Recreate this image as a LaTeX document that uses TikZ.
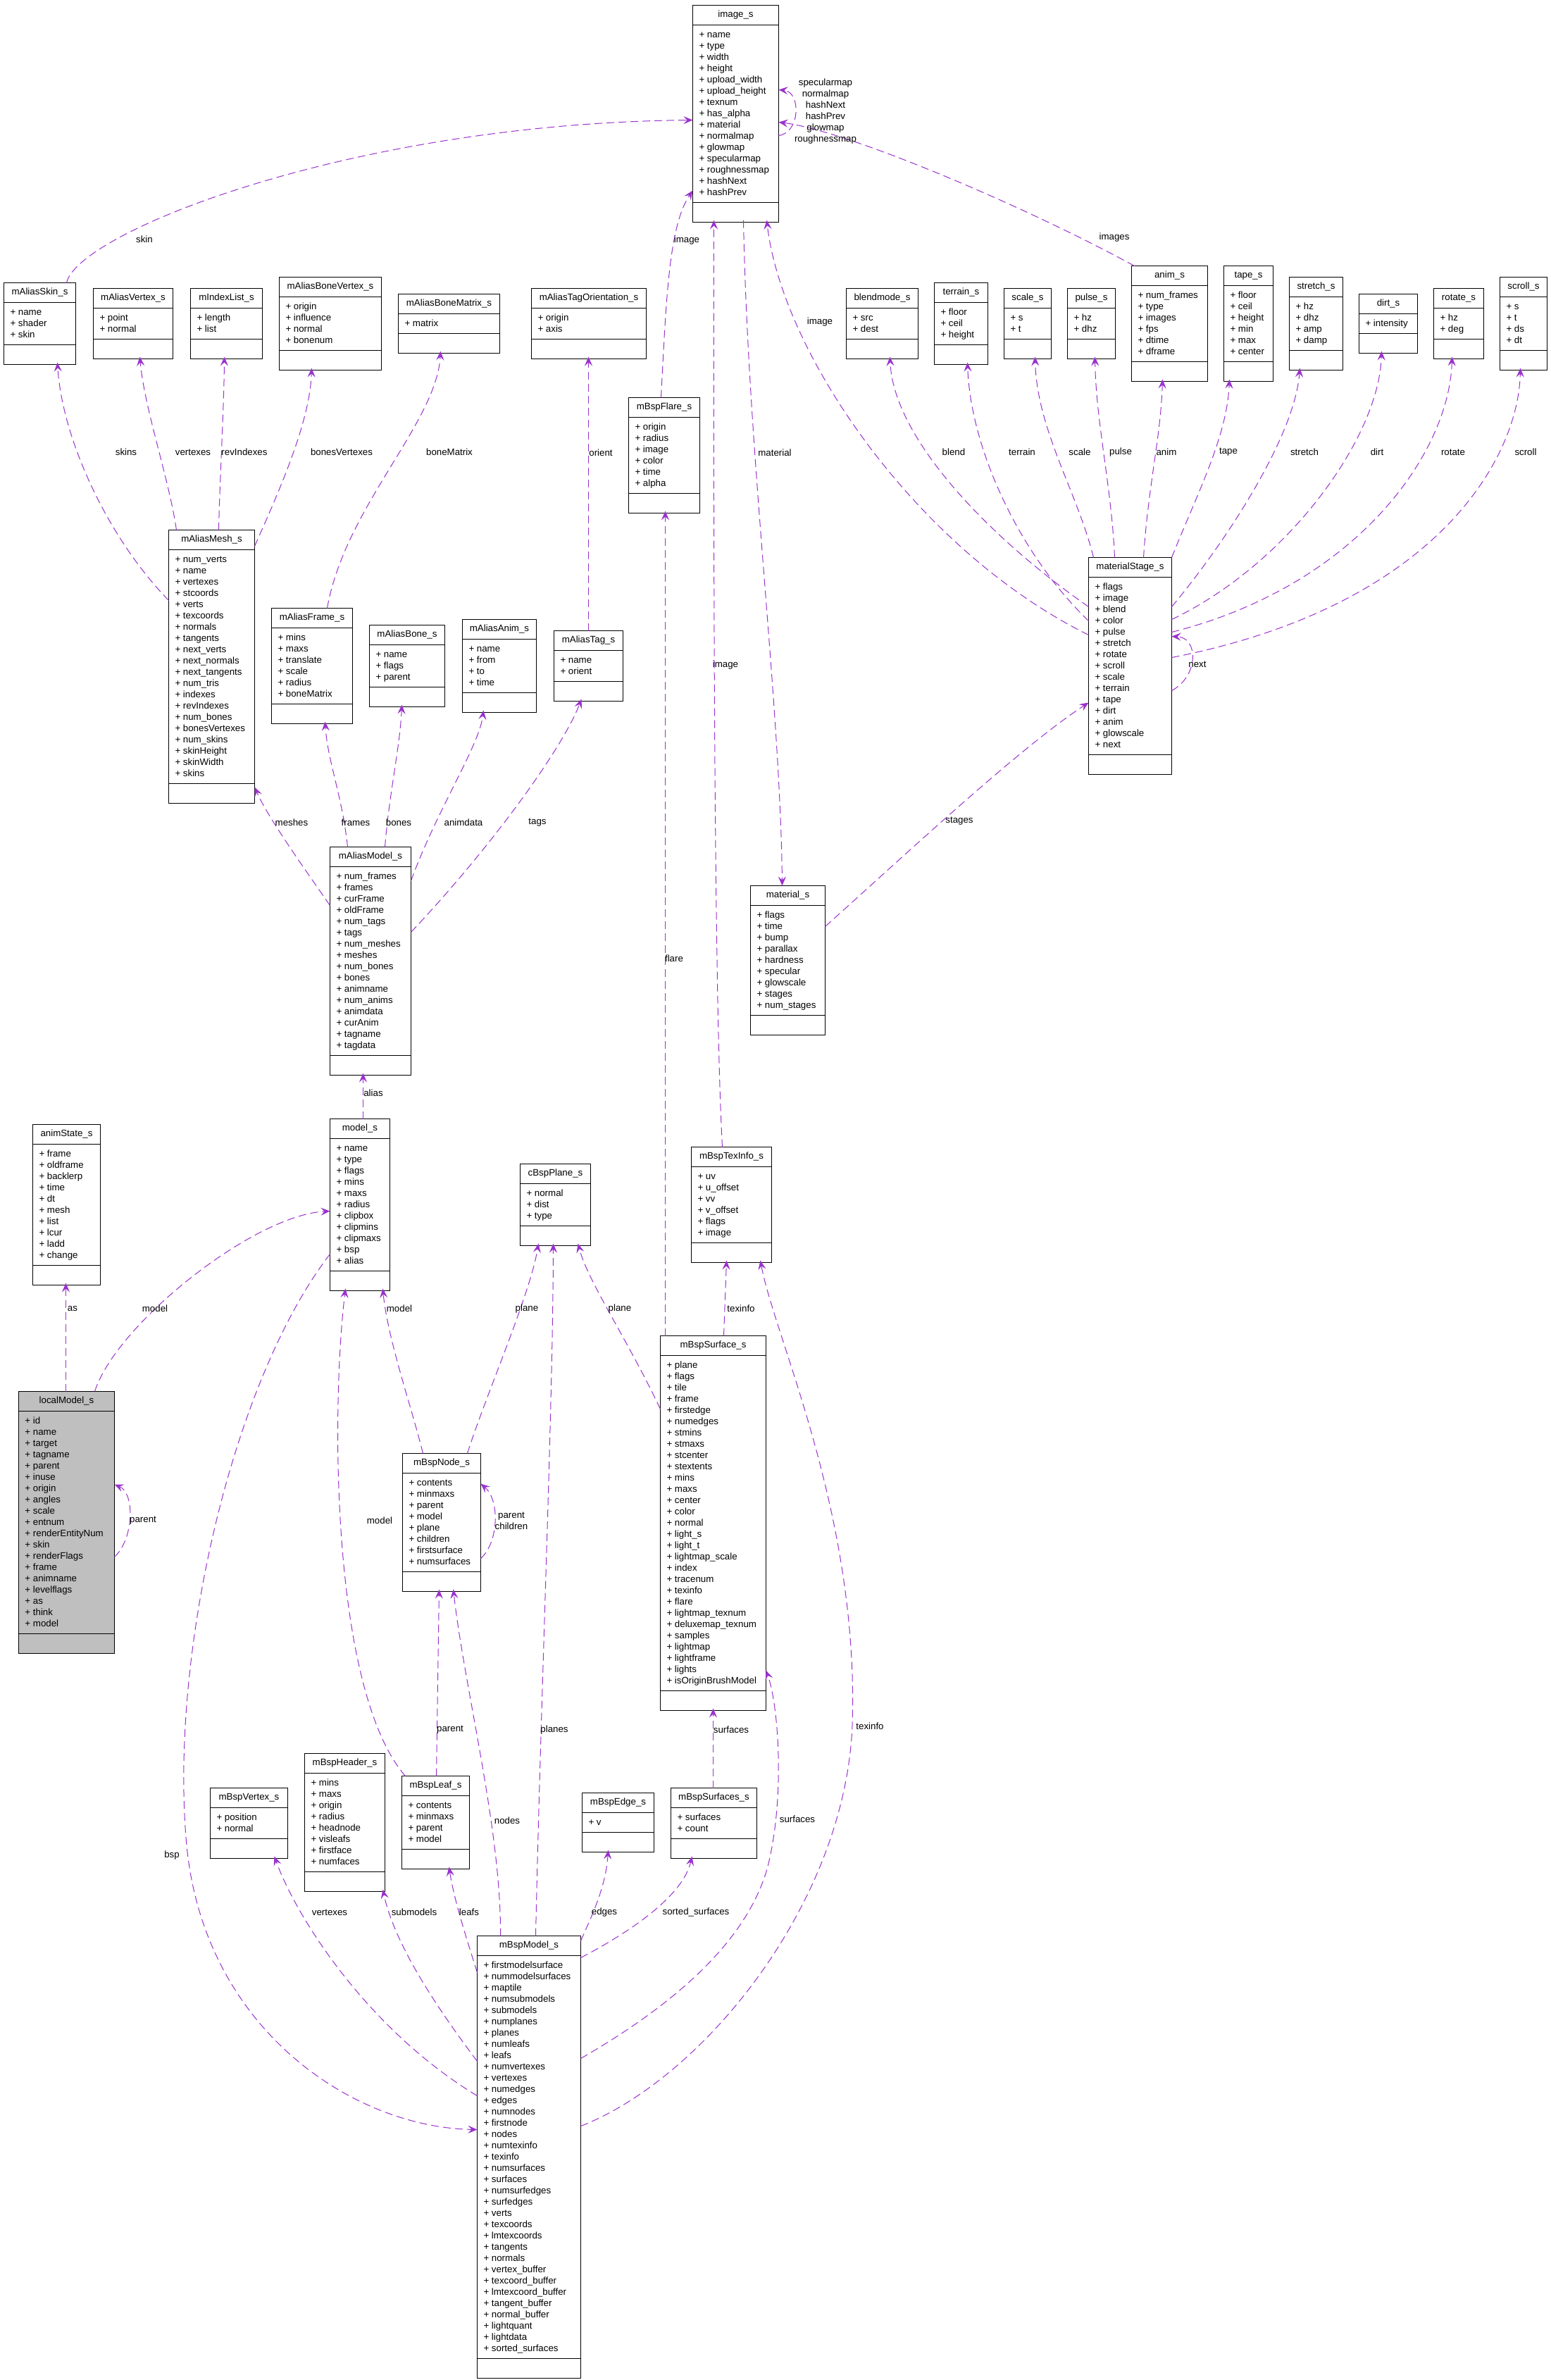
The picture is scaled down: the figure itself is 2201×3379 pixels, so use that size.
\documentclass[tikz,border=0pt]{standalone}
\usepackage{fontspec}
\setmainfont{Liberation Sans}
\usetikzlibrary{shapes.multipart,arrows.meta,calc}
\definecolor{edgecol}{HTML}{9A32CD}
\newdimen\cw
\newcommand\fs{\fontsize{13.3pt}{16pt}\selectfont}
\newcommand\clstitle[1]{\vbox to 27pt{\vfil\hbox to\cw{\hfil\vrule height 9.5pt depth 3.5pt width 0pt\relax #1\hfil}\vfil}}
\newcommand\clsrow[1]{\hbox to\cw{\hspace{9pt}\vrule height 11.5pt depth 4.5pt width 0pt\relax + #1\hfil}}
\newcommand\clsrows[1]{\vbox{\offinterlineskip\kern5.5pt\foreach \rowitem in {#1}{\clsrow{\rowitem}}\kern5.5pt}}
\newcommand\clsempty{\vbox to 27pt{\hbox to\cw{}\vfil}}
\newcommand\umlclass[7][]{%
  \global\cw=#5pt\relax
  \node[cls,#1] (#2) at (#3+0.5,#4+0.5) {\clstitle{#6}\nodepart{two}\clsrows{#7}\nodepart{three}\clsempty};}
\tikzset{
  cls/.style={draw=black, line width=1pt, fill=white, rectangle split, rectangle split parts=3,
    inner sep=0pt, outer sep=0pt, anchor=north west},
  rel/.style={edgecol, line width=1pt, dash pattern=on 11pt off 6pt,
    -{Stealth[length=13pt,width=11pt,inset=5pt]}},
  lbl/.style={inner sep=0pt, text=black}
}
\begin{document}
\begin{tikzpicture}[x=1pt,y=-1pt, every node/.style={font=\fs}]
\fill[white] (0,0) rectangle (2201,3379);
\useasboundingbox (0,0) rectangle (2201,3379);

% ---------- classes ----------
\umlclass{image}{983}{7}{122}{image\_s}{name,type,width,height,upload\_width,upload\_height,texnum,has\_alpha,material,normalmap,glowmap,specularmap,roughnessmap,hashNext,hashPrev}
\umlclass{askin}{5}{401}{102}{mAliasSkin\_s}{name,shader,skin}
\umlclass{avert}{132}{409}{113}{mAliasVertex\_s}{point,normal}
\umlclass{ilist}{270}{409}{102}{mIndexList\_s}{length,list}
\umlclass{bvert}{396}{393}{145}{mAliasBoneVertex\_s}{origin,influence,normal,bonenum}
\umlclass{bmat}{565}{417}{144}{mAliasBoneMatrix\_s}{matrix}
\umlclass{tagor}{754}{409}{163}{mAliasTagOrientation\_s}{origin,axis}
\umlclass{flare}{892}{564}{101}{mBspFlare\_s}{origin,radius,image,color,time,alpha}
\umlclass{blendm}{1201}{409}{102}{blendmode\_s}{src,dest}
\umlclass{terrain}{1326}{401}{76}{terrain\_s}{floor,ceil,height}
\umlclass{scalem}{1425}{409}{67}{scale\_s}{s,t}
\umlclass{pulsem}{1515}{409}{68}{pulse\_s}{hz,dhz}
\umlclass{animm}{1606}{377}{108}{anim\_s}{num\_frames,type,images,fps,dtime,dframe}
\umlclass{tapem}{1737}{377}{70}{tape\_s}{floor,ceil,height,min,max,center}
\umlclass{stretchm}{1830}{393}{76}{stretch\_s}{hz,dhz,amp,damp}
\umlclass{dirtm}{1929}{417}{83}{dirt\_s}{intensity}
\umlclass{rotatem}{2035}{409}{71}{rotate\_s}{hz,deg}
\umlclass{scrollm}{2129}{393}{67}{scroll\_s}{s,t,ds,dt}
\umlclass{mstage}{1545}{791}{118}{materialStage\_s}{flags,image,blend,color,pulse,stretch,rotate,scroll,scale,terrain,tape,dirt,anim,glowscale,next}
\umlclass{mesh}{239}{752}{122}{mAliasMesh\_s}{num\_verts,name,vertexes,stcoords,verts,texcoords,normals,tangents,next\_verts,next\_normals,next\_tangents,num\_tris,indexes,revIndexes,num\_bones,bonesVertexes,num\_skins,skinHeight,skinWidth,skins}
\umlclass{aframe}{385}{863}{115}{mAliasFrame\_s}{mins,maxs,translate,scale,radius,boneMatrix}
\umlclass{abone}{524}{887}{107}{mAliasBone\_s}{name,flags,parent}
\umlclass{aanim}{656}{879}{105}{mAliasAnim\_s}{name,from,to,time}
\umlclass{atag}{786}{895}{98}{mAliasTag\_s}{name,orient}
\umlclass{amodel}{468}{1202}{115}{mAliasModel\_s}{num\_frames,frames,curFrame,oldFrame,num\_tags,tags,num\_meshes,meshes,num\_bones,bones,animname,num\_anims,animdata,curAnim,tagname,tagdata}
\umlclass{material}{1065}{1257}{106}{material\_s}{flags,time,bump,parallax,hardness,specular,glowscale,stages,num\_stages}
\umlclass{astate}{46}{1596}{96}{animState\_s}{frame,oldframe,backlerp,time,dt,mesh,list,lcur,ladd,change}
\umlclass{model}{468}{1588}{85}{model\_s}{name,type,flags,mins,maxs,radius,clipbox,clipmins,clipmaxs,bsp,alias}
\umlclass{plane}{738}{1652}{100}{cBspPlane\_s}{normal,dist,type}
\umlclass{texinfo}{981}{1628}{114}{mBspTexInfo\_s}{uv,u\_offset,vv,v\_offset,flags,image}
\umlclass[fill=black!25]{localm}{26}{1975}{136}{localModel\_s}{id,name,target,tagname,parent,inuse,origin,angles,scale,entnum,renderEntityNum,skin,renderFlags,frame,animname,levelflags,as,think,model}
\umlclass{bnode}{571}{2063}{111}{mBspNode\_s}{contents,minmaxs,parent,model,plane,children,firstsurface,numsurfaces}
\umlclass{surf}{937}{1896}{150}{mBspSurface\_s}{plane,flags,tile,frame,firstedge,numedges,stmins,stmaxs,stcenter,stextents,mins,maxs,center,color,normal,light\_s,light\_t,lightmap\_scale,index,tracenum,texinfo,flare,lightmap\_texnum,deluxemap\_texnum,samples,lightmap,lightframe,lights,isOriginBrushModel}
\umlclass{vertex}{298}{2538}{110}{mBspVertex\_s}{position,normal}
\umlclass{header}{432}{2489}{114}{mBspHeader\_s}{mins,maxs,origin,radius,headnode,visleafs,firstface,numfaces}
\umlclass{leaf}{570}{2521}{96}{mBspLeaf\_s}{contents,minmaxs,parent,model}
\umlclass{bedge}{826}{2545}{102}{mBspEdge\_s}{v}
\umlclass{surfs}{952}{2538}{122}{mBspSurfaces\_s}{surfaces,count}
\umlclass{bmodel}{677}{2748}{147}{mBspModel\_s}{firstmodelsurface,nummodelsurfaces,maptile,numsubmodels,submodels,numplanes,planes,numleafs,leafs,numvertexes,vertexes,numedges,edges,numnodes,firstnode,nodes,numtexinfo,texinfo,numsurfaces,surfaces,numsurfedges,surfedges,verts,texcoords,lmtexcoords,tangents,normals,vertex\_buffer,texcoord\_buffer,lmtexcoord\_buffer,tangent\_buffer,normal\_buffer,lightquant,lightdata,sorted\_surfaces}

% ---------- connectors ----------
\draw[rel] ($(askin.north west)+(89,0)$) .. controls (110,330) and (500,175) .. ($(image.north west)+(0,163)$);
\draw[rel] ($(image.north west)+(122,185)$) .. controls (1137,188) and (1137,130) .. ($(image.north west)+(122,120)$);
\draw[rel] ($(animm.north west)+(4,0)$) .. controls (1450,290) and (1200,185) .. ($(image.north west)+(122,166)$);
\draw[rel] ($(flare.north west)+(46,0)$) .. controls (946,420) and (950,320) .. ($(image.north west)+(0,263)$);
\draw[rel] ($(texinfo.north west)+(44,0)$) .. controls (1013,1400) and (1013,700) .. ($(image.north west)+(30,305)$);
\draw[rel] ($(image.north west)+(72,305)$) .. controls (1062,650) and (1108,1000) .. ($(material.north west)+(45,0)$);
\draw[rel] ($(mstage.north west)+(0,110)$) .. controls (1300,780) and (1110,500) .. ($(image.north west)+(105,305)$);
\draw[rel] ($(mstage.north west)+(0,70)$) .. controls (1400,760) and (1268,620) .. ($(blendm.north west)+(62,97)$);
\draw[rel] ($(mstage.north west)+(0,90)$) .. controls (1450,790) and (1378,640) .. ($(terrain.north west)+(47,113)$);
\draw[rel] ($(mstage.north west)+(7,0)$) .. controls (1530,700) and (1472,610) .. ($(scalem.north west)+(44,97)$);
\draw[rel] ($(mstage.north west)+(37,0)$) .. controls (1578,690) and (1556,600) .. ($(pulsem.north west)+(39,97)$);
\draw[rel] ($(mstage.north west)+(78,0)$) .. controls (1630,690) and (1648,620) .. ($(animm.north west)+(44,161)$);
\draw[rel] ($(mstage.north west)+(118,0)$) .. controls (1700,700) and (1742,620) .. ($(tapem.north west)+(8,161)$);
\draw[rel] ($(mstage.north west)+(118,70)$) .. controls (1740,770) and (1838,620) .. ($(stretchm.north west)+(15,129)$);
\draw[rel] ($(mstage.north west)+(118,88)$) .. controls (1830,800) and (1958,620) .. ($(dirtm.north west)+(32,81)$);
\draw[rel] ($(mstage.north west)+(118,106)$) .. controls (1930,830) and (2058,640) .. ($(rotatem.north west)+(26,97)$);
\draw[rel] ($(mstage.north west)+(118,142)$) .. controls (2040,860) and (2156,650) .. ($(scrollm.north west)+(29,129)$);
\draw[rel] ($(mstage.north west)+(118,189)$) .. controls (1702,960) and (1702,905) .. ($(mstage.north west)+(118,112)$);
\draw[rel] ($(material.north west)+(106,58)$) .. controls (1300,1200) and (1450,1060) .. ($(mstage.north west)+(0,206)$);
\draw[rel] ($(mesh.north west)+(0,100)$) .. controls (150,760) and (88,620) .. ($(askin.north west)+(76,113)$);
\draw[rel] ($(mesh.north west)+(11,0)$) .. controls (240,680) and (205,580) .. ($(avert.north west)+(66,97)$);
\draw[rel] ($(mesh.north west)+(71,0)$) .. controls (312,680) and (318,580) .. ($(ilist.north west)+(48,97)$);
\draw[rel] ($(mesh.north west)+(122,23)$) .. controls (395,700) and (440,600) .. ($(bvert.north west)+(46,129)$);
\draw[rel] ($(aframe.north west)+(79,0)$) .. controls (490,720) and (620,600) .. ($(bmat.north west)+(60,81)$);
\draw[rel] ($(atag.north west)+(49,0)$) -- ($(tagor.north west)+(81,97)$);
\draw[rel] ($(amodel.north west)+(0,83)$) .. controls (430,1230) and (380,1160) .. ($(mesh.north west)+(122,365)$);
\draw[rel] ($(amodel.north west)+(25,0)$) .. controls (486,1130) and (465,1080) .. ($(aframe.north west)+(76,161)$);
\draw[rel] ($(amodel.north west)+(78,0)$) .. controls (552,1130) and (568,1060) .. ($(abone.north west)+(46,113)$);
\draw[rel] ($(amodel.north west)+(115,48)$) .. controls (620,1150) and (680,1060) .. ($(aanim.north west)+(30,129)$);
\draw[rel] ($(amodel.north west)+(115,121)$) .. controls (700,1200) and (800,1060) .. ($(atag.north west)+(39,97)$);
\draw[rel] ($(model.north west)+(47,0)$) -- ($(amodel.north west)+(47,321)$);
\draw[rel] ($(localm.north west)+(108,0)$) .. controls (165,1880) and (360,1725) .. ($(model.north west)+(0,131)$);
\draw[rel] ($(localm.north west)+(67,0)$) -- ($(astate.north west)+(47,225)$);
\draw[rel] ($(localm.north west)+(136,235)$) .. controls (190,2185) and (192,2120) .. ($(localm.north west)+(136,132)$);
\draw[rel] ($(model.north west)+(0,192)$) .. controls (330,1960) and (240,2350) .. (265,2620) .. controls (290,2880) and (500,3020) .. ($(bmodel.north west)+(0,275)$);
\draw[rel] ($(bnode.north west)+(29,0)$) .. controls (585,2000) and (550,1900) .. ($(model.north west)+(75,241)$);
\draw[rel] ($(leaf.north west)+(5,0)$) .. controls (470,2400) and (470,2000) .. ($(model.north west)+(22,241)$);
\draw[rel] ($(leaf.north west)+(49,0)$) -- ($(bnode.north west)+(52,193)$);
\draw[rel] ($(bmodel.north west)+(33,0)$) .. controls (712,2600) and (660,2400) .. ($(bnode.north west)+(72,193)$);
\draw[rel] ($(bmodel.north west)+(83,0)$) .. controls (768,2400) and (785,2000) .. ($(plane.north west)+(47,113)$);
\draw[rel] ($(bnode.north west)+(92,0)$) .. controls (690,1980) and (752,1840) .. ($(plane.north west)+(26,113)$);
\draw[rel] ($(surf.north west)+(0,104)$) .. controls (890,1900) and (835,1820) .. ($(plane.north west)+(82,113)$);
\draw[rel] ($(surf.north west)+(90,0)$) -- ($(texinfo.north west)+(50,161)$);
\draw[rel] ($(bmodel.north west)+(147,270)$) .. controls (1000,2950) and (1200,2700) .. (1210,2450) .. controls (1220,2150) and (1100,1900) .. ($(texinfo.north west)+(98,161)$);
\draw[rel] ($(bmodel.north west)+(147,174)$) .. controls (950,2850) and (1060,2760) .. (1090,2650) .. controls (1115,2550) and (1105,2420) .. ($(surf.north west)+(150,475)$);
\draw[rel] ($(surfs.north west)+(60,0)$) -- ($(surf.north west)+(75,529)$);
\draw[rel] ($(surf.north west)+(7,0)$) -- ($(flare.north west)+(52,161)$);
\draw[rel] ($(bmodel.north west)+(147,31)$) .. controls (900,2740) and (970,2690) .. ($(surfs.north west)+(30,97)$);
\draw[rel] ($(bmodel.north west)+(147,7)$) .. controls (840,2720) and (860,2680) .. ($(bedge.north west)+(37,81)$);
\draw[rel] ($(bmodel.north west)+(0,52)$) .. controls (665,2760) and (645,2700) .. ($(leaf.north west)+(67,129)$);
\draw[rel] ($(bmodel.north west)+(0,178)$) .. controls (620,2850) and (560,2760) .. ($(header.north west)+(111,193)$);
\draw[rel] ($(bmodel.north west)+(0,227)$) .. controls (520,2880) and (420,2720) .. ($(vertex.north west)+(91,97)$);
\draw[rel] ($(bnode.north west)+(111,149)$) .. controls (708,2190) and (710,2130) .. ($(bnode.north west)+(111,43)$);

% ---------- labels ----------
\node[lbl] (L1) at (205,340) {skin};
\node[lbl] (L2) at (975,341) {image};
\node[lbl,align=center] (L3) at (1172,158) {specularmap\\normalmap\\hashNext\\hashPrev\\glowmap\\roughnessmap};
\node[lbl] (L4) at (1582,337) {images};
\node[lbl] (L5) at (1164,457) {image};
\node[lbl] (L6) at (179,642) {skins};
\node[lbl] (L7) at (274,642) {vertexes};
\node[lbl] (L8) at (347,642) {revIndexes};
\node[lbl] (L9) at (485,642) {bonesVertexes};
\node[lbl] (L10) at (638,642) {boneMatrix};
\node[lbl] (L11) at (853,643) {orient};
\node[lbl] (L12) at (1100,643) {material};
\node[lbl] (L13) at (1354,642) {blend};
\node[lbl] (L14) at (1451,642) {terrain};
\node[lbl] (L15) at (1533,642) {scale};
\node[lbl] (L16) at (1591,642) {pulse};
\node[lbl] (L17) at (1656,642) {anim};
\node[lbl] (L18) at (1744,642) {tape};
\node[lbl] (L19) at (1852,642) {stretch};
\node[lbl] (L20) at (1955,642) {dirt};
\node[lbl] (L21) at (2063,642) {rotate};
\node[lbl] (L22) at (2166,642) {scroll};
\node[lbl] (L23) at (1030,944) {image};
\node[lbl] (L24) at (1700,943) {next};
\node[lbl] (L25) at (414,1168) {meshes};
\node[lbl] (L26) at (505,1168) {frames};
\node[lbl] (L27) at (566,1168) {bones};
\node[lbl] (L28) at (658,1168) {animdata};
\node[lbl] (L29) at (763,1168) {tags};
\node[lbl] (L30) at (1362,1166) {stages};
\node[lbl] (L31) at (957,1361) {flare};
\node[lbl] (L32) at (530,1552) {alias};
\node[lbl] (L33) at (103,1858) {as};
\node[lbl] (L34) at (220,1858) {model};
\node[lbl] (L35) at (567,1858) {model};
\node[lbl] (L36) at (748,1858) {plane};
\node[lbl] (L37) at (880,1858) {plane};
\node[lbl] (L38) at (1052,1858) {texinfo};
\node[lbl] (L39) at (203,2159) {parent};
\node[lbl] (L40) at (539,2159) {model};
\node[lbl,align=center] (L41) at (726,2159) {parent\\children};
\node[lbl] (L42) at (244,2634) {bsp};
\node[lbl] (L43) at (639,2456) {parent};
\node[lbl] (L44) at (787,2456) {planes};
\node[lbl] (L45) at (1038,2456) {surfaces};
\node[lbl] (L46) at (1235,2451) {texinfo};
\node[lbl] (L47) at (720,2585) {nodes};
\node[lbl] (L48) at (1132,2583) {surfaces};
\node[lbl] (L49) at (468,2715) {vertexes};
\node[lbl] (L50) at (588,2715) {submodels};
\node[lbl] (L51) at (666,2715) {leafs};
\node[lbl] (L52) at (858,2715) {edges};
\node[lbl] (L53) at (988,2715) {sorted\_surfaces};
\end{tikzpicture}
\end{document}
